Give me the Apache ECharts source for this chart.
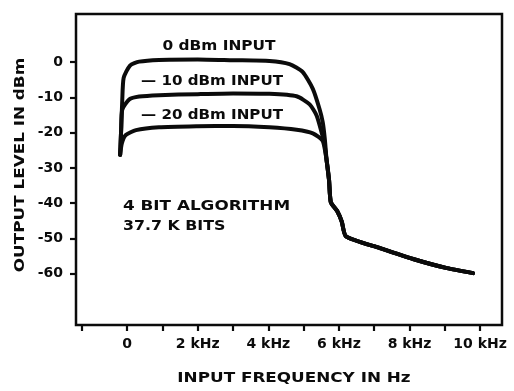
<!DOCTYPE html>
<html>
<head>
<meta charset="utf-8">
<script src="https://cdn.jsdelivr.net/npm/echarts@6/dist/echarts.min.js"></script>
<style>
html,body{margin:0;padding:0;background:#fff;}
#chart{width:514px;height:391px;}
</style>
</head>
<body>
<div id="chart"></div>
<script>
// ---- data (frequency in kHz, output level in dBm) ----
var input0dBm = [
  [-0.20,-26.3],[-0.17,-19.0],[-0.14,-11.0],[-0.10,-4.5],[0.08,-1.0],[0.34,0.1],[0.90,0.6],
  [2.00,0.7],[3.00,0.5],[4.03,0.3],[4.60,-0.6],[4.97,-2.8],[5.26,-7.6],[5.45,-13.3],
  [5.54,-17.0],[5.60,-21.8]
];
var input10dBm = [
  [-0.20,-26.3],[-0.17,-19.0],[-0.14,-13.5],[0.06,-10.6],[0.34,-9.8],[0.90,-9.4],
  [2.00,-9.1],[3.00,-8.9],[4.03,-9.0],[4.80,-9.7],[5.17,-12.0],[5.37,-15.2],[5.51,-20.0],
  [5.58,-22.5]
];
var input20dBm = [
  [-0.20,-26.3],[-0.15,-23.0],[-0.04,-20.7],[0.25,-19.3],[0.90,-18.5],[2.00,-18.2],
  [3.00,-18.1],[4.03,-18.5],[4.80,-19.2],[5.26,-20.2],[5.54,-22.3]
];
var rollOff = [
  [5.65,-27.8],[5.72,-33.5],[5.77,-39.7],[5.95,-42.2],[6.08,-45.2],[6.20,-49.4],
  [7.16,-52.7],[8.10,-55.8],[9.06,-58.4],[9.80,-59.8]
];
var xTickValues = [-1.28,0,1,2,3,4,5,6,7,8,9,10];
var xLabelValues = [0,2,4,6,8,10];
var yTickValues = [0,-10,-20,-30,-40,-50,-60];
var curveLabels = ['0 dBm INPUT','\u2014 10 dBm INPUT','\u2014 20 dBm INPUT'];
var noteLines = ['4 BIT ALGORITHM','37.7 K BITS'];
var xTitle = 'INPUT FREQUENCY IN Hz';
var yTitle = 'OUTPUT LEVEL IN dBm';

var INK = '#0b0b0b';
var FONT = '"DejaVu Sans", "Liberation Sans", sans-serif';

function lineSeries(name, pts){
  return {
    name: name, type: 'line', data: pts.concat(rollOff),
    smooth: 0.2, symbol: 'none',
    lineStyle: {color: INK, width: 4, cap: 'round', join: 'round'},
    z: 3
  };
}
function txt(str, x, y, size, align, sx, rot){
  return {type: 'text', x: x, y: y, scaleX: sx || 1, rotation: rot || 0,
    style: {text: str, fill: INK, font: 'bold ' + size + 'px ' + FONT, textAlign: align, textVerticalAlign: 'middle'}};
}

var chart = echarts.init(document.getElementById('chart'), null, {renderer: 'canvas'});
chart.setOption({
  animation: false,
  backgroundColor: '#ffffff',
  grid: {left: 76, right: 12, top: 14, bottom: 66, show: true, borderColor: INK, borderWidth: 2.5, backgroundColor: 'transparent'},
  xAxis: {
    type: 'value', min: -1.45, max: 10.62,
    splitLine: {show: false},
    axisLine: {show: false, onZero: false},
    axisTick: {show: true, customValues: xTickValues, length: 6, inside: false, lineStyle: {color: INK, width: 2.2}},
    axisLabel: {
      customValues: xLabelValues, margin: 12,
      color: INK, fontFamily: FONT, fontWeight: 'bold', fontSize: 14,
      formatter: function(v){ return v === 0 ? '0' : v + ' kHz'; }
    }
  },
  yAxis: {
    type: 'value', min: -74.5, max: 13.6,
    splitLine: {show: false},
    axisLine: {show: false, onZero: false},
    axisTick: {show: true, customValues: yTickValues, length: 6, inside: false, lineStyle: {color: INK, width: 2.2}},
    axisLabel: {
      customValues: yTickValues, margin: 13,
      color: INK, fontFamily: FONT, fontWeight: 'bold', fontSize: 14,
      formatter: function(v){ return String(v); }
    }
  },
  series: [
    lineSeries('0 dBm', input0dBm),
    lineSeries('-10 dBm', input10dBm),
    lineSeries('-20 dBm', input20dBm)
  ],
  graphic: [
    txt(curveLabels[0], 219, 46, 14, 'center', 1.1),
    txt(curveLabels[1], 141, 81, 14, 'left', 1.08),
    txt(curveLabels[2], 141, 115, 14, 'left', 1.08),
    txt(noteLines[0], 123, 206, 14, 'left', 1.2),
    txt(noteLines[1], 123, 226, 14, 'left', 1.13),
    txt(xTitle, 294, 378, 14, 'center', 1.2),
    txt(yTitle, 20, 165, 14, 'center', 1.2, Math.PI / 2)
  ]
});
</script>
</body>
</html>
